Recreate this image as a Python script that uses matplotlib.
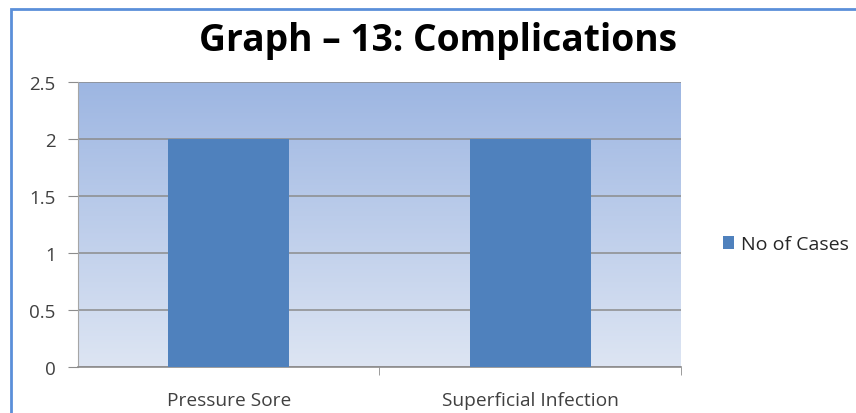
import matplotlib
matplotlib.use('Agg')
import matplotlib.pyplot as plt
import numpy as np
from matplotlib.patches import Rectangle
from matplotlib.colors import LinearSegmentedColormap

# data
categories = ['Pressure Sore', 'Superficial Infection']
cases = [2, 2]
series_name = 'No of Cases'
title = 'Graph \u2013 13: Complications'

plt.rcParams['font.family'] = ['Open Sans', 'DejaVu Sans']

fig = plt.figure(figsize=(8.56, 4.14), dpi=100)
ax = fig.add_axes([0.0911, 0.1111, 0.7044, 0.6884])

# gradient plot background
grad = LinearSegmentedColormap.from_list('bg', ['#dde5f3', '#9db6e2'])
ax.imshow(np.linspace(0, 1, 256).reshape(-1, 1), cmap=grad, aspect='auto',
          extent=[-0.5, 1.5, 0, 2.5], origin='lower', zorder=0)

x = np.arange(len(categories))
ax.bar(x, cases, width=0.4, color='#4f81bd', zorder=3, label=series_name)

ax.set_xlim(-0.5, 1.5)
ax.set_ylim(0, 2.5)
ax.set_yticks(np.arange(0, 2.51, 0.5))
ax.set_yticklabels(['0', '0.5', '1', '1.5', '2', '2.5'])
ax.yaxis.grid(True, color='#8c8c8c', linewidth=1.1, zorder=1)
ax.set_axisbelow(True)

ax.set_xticks(x)
ax.set_xticklabels(categories)
ax.set_xticks([0.5, 1.5], minor=True)
ax.tick_params(axis='x', which='major', length=0, pad=17, labelsize=13.8, labelcolor='#404040')
ax.tick_params(axis='x', which='minor', length=6, color='#8c8c8c', direction='out')
ax.tick_params(axis='y', length=7, color='#8c8c8c', pad=9, labelsize=13.5, labelcolor='#404040')

for side in ['top', 'right']:
    ax.spines[side].set_visible(False)
ax.spines['left'].set_color('#a6a6a6')
ax.spines['bottom'].set_color('#8c8c8c')
ax.spines['bottom'].set_linewidth(1.2)

fig.text(0.512, 0.9, title, ha='center', va='center', fontsize=26.8, fontweight='bold', color='#000000')

leg = ax.legend(loc='center left', bbox_to_anchor=(1.04, 0.43), frameon=False,
                fontsize=14, handlelength=0.6, handleheight=0.6, handletextpad=0.35)
for t in leg.get_texts():
    t.set_color('#262626')

# outer chart border (right and bottom are cut off)
fig.patches.append(Rectangle((11 / 856, -0.1), 1.2, 1 - 10 / 414 + 0.1,
                             transform=fig.transFigure, fill=False,
                             edgecolor='#5b8fd9', linewidth=2))

fig.savefig('out.png', dpi=100)
